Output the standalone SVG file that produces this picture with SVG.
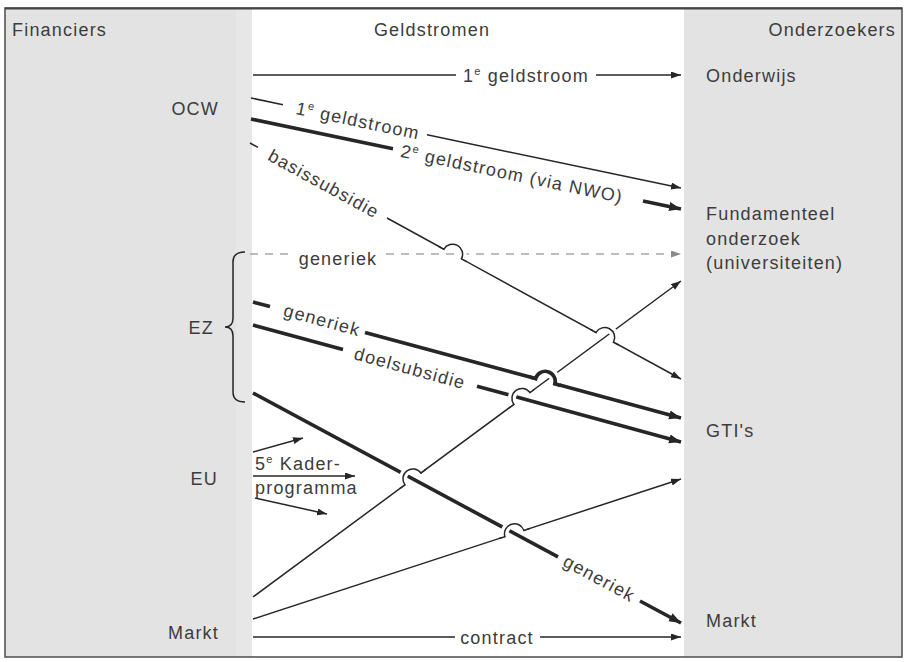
<svg xmlns="http://www.w3.org/2000/svg" width="907" height="662" viewBox="0 0 907 662">
<style>
text{font-family:"Liberation Sans",Arial,sans-serif;font-size:18px;fill:#3c3c3c;letter-spacing:1.2px}
.thin{fill:none;stroke:#262626;stroke-width:1.5}
.thick{fill:none;stroke:#262626;stroke-width:3.6}
.dash{fill:none;stroke:#a8a8a8;stroke-width:1.6;stroke-dasharray:8 7}
.halo{fill:none;stroke:#fff;stroke-width:8}
.halo2{fill:none;stroke:#fff;stroke-width:10}
.sup{font-size:11px}
</style>
<defs>
<marker id="ah" markerUnits="userSpaceOnUse" markerWidth="11" markerHeight="8" refX="10" refY="3.5" orient="auto"><path d="M0,0 L10,3.5 L0,7 z" fill="#262626"/></marker>
<marker id="ahk" markerUnits="userSpaceOnUse" markerWidth="14" markerHeight="10" refX="12" refY="4.5" orient="auto"><path d="M0,0 L12,4.5 L0,9 z" fill="#262626"/></marker>
<marker id="ahg" markerUnits="userSpaceOnUse" markerWidth="11" markerHeight="8" refX="10" refY="3.5" orient="auto"><path d="M0,0 L10,3.5 L0,7 z" fill="#8a8a8a"/></marker>
</defs>
<rect x="0" y="0" width="907" height="662" fill="#fff"/>
<rect x="5" y="8" width="247" height="649" fill="#e3e3e3"/>
<rect x="236" y="8" width="16" height="649" fill="#e7e7e7"/>
<rect x="684" y="8" width="218" height="649" fill="#e3e3e3"/>
<rect x="5" y="8" width="897" height="649" fill="none" stroke="#555" stroke-width="1.6"/>
<line x1="5" y1="8.5" x2="902" y2="8.5" stroke="#444" stroke-width="2"/>

<g id="headers">
<text x="12" y="36">Financiers</text>
<text x="432" y="36" text-anchor="middle">Geldstromen</text>
<text x="896" y="36" text-anchor="end">Onderzoekers</text>
</g>

<g id="node-ocw"><text x="219" y="115" text-anchor="end">OCW</text></g>
<g id="node-ez"><text x="214" y="334" text-anchor="end">EZ</text>
<path class="thin" d="M245,252 Q233,252 233,262 L233,318 Q233,327 225,327 Q233,327 233,336 L233,392 Q233,402 245,402"/></g>
<g id="node-eu"><text x="218" y="485" text-anchor="end">EU</text></g>
<g id="node-markt-left"><text x="219" y="639" text-anchor="end">Markt</text></g>
<g id="node-onderwijs"><text x="706" y="82">Onderwijs</text></g>
<g id="node-fundamenteel"><text x="706" y="220">Fundamenteel</text><text x="706" y="245">onderzoek</text><text x="706" y="269">(universiteiten)</text></g>
<g id="node-gti"><text x="706" y="437">GTI's</text></g>
<g id="node-markt-right"><text x="706" y="627">Markt</text></g>

<g id="connectors">
<path class="thin" d="M253,75 H456"/>
<path class="thin" d="M596,75 H681" marker-end="url(#ah)"/>
<text x="526" y="81.5" text-anchor="middle">1<tspan class="sup" dy="-7">e</tspan><tspan dy="7"> geldstroom</tspan></text>

<path class="thin" d="M251,98 L283,104.7"/>
<path class="thin" d="M427,134.8 L681,188" marker-end="url(#ah)"/>
<text transform="translate(358,120.4) rotate(11.82)" y="6.5" text-anchor="middle">1<tspan class="sup" dy="-7">e</tspan><tspan dy="7"> geldstroom</tspan></text>

<path class="thick" d="M251,119 L393,148.7"/>
<path class="thick" d="M643,201 L681,209" marker-end="url(#ahk)"/>
<text transform="translate(512,173.6) rotate(11.82)" y="6.5" text-anchor="middle">2<tspan class="sup" dy="-7">e</tspan><tspan dy="7"> geldstroom (via NWO)</tspan></text>

<path class="dash" d="M250,254 H292"/>
<path class="dash" d="M386,254 H681" marker-end="url(#ahg)"/>
<text x="338" y="265" text-anchor="middle">generiek</text>

<path class="thin" d="M250,143 L258,147.4"/>
<path class="thin" d="M387,218 L443.93,249.2 A10,10 0 0 1 461.47,258.8 L596.03,332.5 A10,10 0 0 1 613.57,342.1 L681,379" marker-end="url(#ah)"/>
<text transform="translate(324,183.5) rotate(28.7)" y="6.5" text-anchor="middle">basissubsidie</text>

<path class="thick" d="M253,302 L270,306.6"/>
<path class="thick" d="M365,332.4 L535.65,378.58 A10,10 0 0 1 554.95,383.82 L681,418" marker-end="url(#ahk)"/>
<text transform="translate(322,320.7) rotate(15.17)" y="5.5" text-anchor="middle">generiek</text>

<path class="thick" d="M253,325 L343,349.6"/>
<path class="thick" d="M477,386.2 L681,442" marker-end="url(#ahk)"/>
<text transform="translate(410,367.9) rotate(15.29)" y="6.5" text-anchor="middle">doelsubsidie</text>

<path class="thick" d="M253,393 L558,556.9"/>
<path class="thick" d="M640,601 L681,623" marker-end="url(#ahk)"/>
<text transform="translate(599,579) rotate(28.25)" y="5.5" text-anchor="middle">generiek</text>

<path class="thin" d="M253,597 L404.86,484.84 A10,10 0 0 1 420.95,472.96 L513.86,404.44 A10,10 0 0 1 529.95,392.56 L681,281" marker-end="url(#ah)"/>

<path class="thin" d="M253,619 L504.9,536.61 A10,10 0 0 1 523.9,530.39 L681,479" marker-end="url(#ah)"/>

<path class="thin" d="M253,637 H455"/>
<path class="thin" d="M540,637 H681" marker-end="url(#ah)"/>
<text x="497" y="643.5" text-anchor="middle">contract</text>

<path class="thin" d="M253,452 L303,438" marker-end="url(#ah)"/>
<path class="thin" d="M253,476 L355,476" marker-end="url(#ah)"/>
<path class="thin" d="M255,498 L327,514" marker-end="url(#ah)"/>
<text x="255" y="470">5<tspan class="sup" dy="-7">e</tspan><tspan dy="7"> Kader-</tspan></text>
<text x="255" y="494">programma</text>

<path class="halo" d="M443.93,249.2 A10,10 0 0 1 461.47,258.8"/>
<path class="halo" d="M596.03,332.5 A10,10 0 0 1 613.57,342.1"/>
<path class="halo" d="M404.86,484.84 A10,10 0 0 1 420.95,472.96"/>
<path class="halo" d="M513.86,404.44 A10,10 0 0 1 529.95,392.56"/>
<path class="halo2" d="M535.65,378.58 A10,10 0 0 1 554.95,383.82"/>
<path class="halo" d="M504.9,536.61 A10,10 0 0 1 523.9,530.39"/>
<path class="thin" d="M438.67,246.32 L443.93,249.2 A10,10 0 0 1 461.47,258.8 L466.73,261.68"/>
<path class="thin" d="M590.77,329.62 L596.03,332.5 A10,10 0 0 1 613.57,342.1 L618.83,344.98"/>
<path class="thin" d="M400.03,488.4 L404.86,484.84 A10,10 0 0 1 420.95,472.96 L425.78,469.4"/>
<path class="thin" d="M509.03,408 L513.86,404.44 A10,10 0 0 1 529.95,392.56 L534.78,389"/>
<path class="thick" d="M529.86,377.01 L535.65,378.58 A10,10 0 0 1 554.95,383.82 L560.74,385.39"/>
<path class="thin" d="M499.2,538.48 L504.9,536.61 A10,10 0 0 1 523.9,530.39 L529.6,528.52"/>
</g>
</svg>
